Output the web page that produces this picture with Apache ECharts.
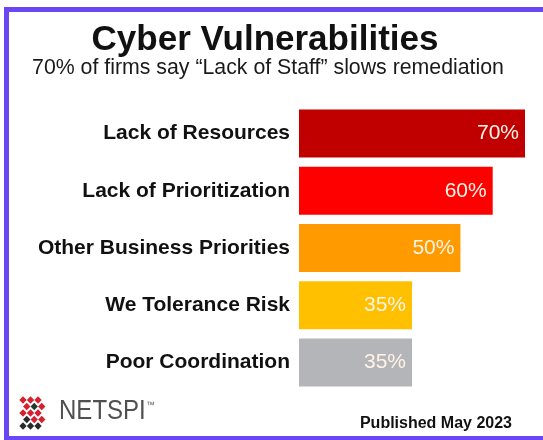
<!DOCTYPE html>
<html>
<head>
<meta charset="utf-8">
<script src="https://cdn.jsdelivr.net/npm/echarts@6/dist/echarts.min.js"></script>
<style>
  html, body { margin: 0; padding: 0; background: #fff; overflow: hidden; }
  #chart { width: 543px; height: 440px; }
</style>
</head>
<body>
<div id="chart"></div>
<script>
var categories = ['Lack of Resources', 'Lack of Prioritization', 'Other Business Priorities', 'We Tolerance Risk', 'Poor Coordination'];
var values = [70, 60, 50, 35, 35];
var titleText = 'Cyber Vulnerabilities';
var subtitleText = '70% of firms say \u201cLack of Staff\u201d slows remediation';
var footerText = 'Published May 2023';
var brandText = 'NETSPI';

var barColors = ['#c00000', '#fe0000', '#ff9a00', '#ffc000', '#b4b5b8'];
var FONT = '"Liberation Sans", Arial, sans-serif';

// logo diamonds (decorative)
var logoCells = [
  [23, 400, '#d4202f'], [30.5, 400, '#d4202f'], [38, 400, '#d4202f'],
  [26.75, 406.5, '#d4202f'], [34.25, 406.5, '#1f3b2e'], [41.75, 406.5, '#d4202f'],
  [23, 413, '#d4202f'], [30.5, 413, '#d4202f'], [38, 413, '#d4202f'],
  [26.75, 419.5, '#2a2a2a'], [34.25, 419.5, '#d4202f'], [41.75, 419.5, '#d4202f'],
  [23, 426, '#2a2a2a'], [30.5, 426, '#2a2a2a'], [38, 426, '#2a2a2a']
];

var PURPLE = '#6a46f5';
var graphics = [
  { type: 'rect', shape: { x: 4, y: 7, width: 539, height: 5 }, style: { fill: PURPLE }, z: 100 },
  { type: 'rect', shape: { x: 4, y: 7, width: 5, height: 433 }, style: { fill: PURPLE }, z: 100 },
  { type: 'rect', shape: { x: 4, y: 436, width: 539, height: 4 }, style: { fill: PURPLE }, z: 100 },
  { type: 'text', x: 59, y: 398, scaleX: 0.89,
    style: { text: brandText, font: '27px ' + FONT, fill: '#505050' } },
  { type: 'text', x: 146, y: 401,
    style: { text: '\u2122', font: '9px ' + FONT, fill: '#666' } },
  { type: 'text', right: 31, top: 416,
    style: { text: footerText, font: 'bold 16px ' + FONT, fill: '#111', textAlign: 'right' } }
];
logoCells.forEach(function (c) {
  var h = 3.7;
  graphics.push({
    type: 'polygon',
    shape: { points: [[c[0], c[1] - h], [c[0] + h, c[1]], [c[0], c[1] + h], [c[0] - h, c[1]]] },
    style: { fill: c[2] }
  });
});

var chart = echarts.init(document.getElementById('chart'), null, { renderer: 'canvas' });
chart.setOption({
  backgroundColor: '#ffffff',
  animation: false,
  title: [
    { text: titleText, left: 260, top: 18, textAlign: 'center',
      textStyle: { fontFamily: FONT, fontSize: 35, fontWeight: 'bold', color: '#111' } },
    { text: subtitleText, left: 263, top: 53, textAlign: 'center',
      textStyle: { fontFamily: FONT, fontSize: 21.3, fontWeight: 'normal', color: '#1a1a1a' } }
  ],
  grid: { left: 299, right: 18, top: 105, bottom: 49, containLabel: false },
  xAxis: { type: 'value', min: 0, max: 70, show: false },
  yAxis: {
    type: 'category', data: categories, inverse: true,
    axisLine: { show: false }, axisTick: { show: false }, splitLine: { show: false },
    axisLabel: { margin: 9, fontFamily: FONT, fontSize: 21, fontWeight: 'bold', color: '#111' }
  },
  series: [{
    type: 'bar',
    barWidth: 48,
    data: values.map(function (v, i) { return { value: v, itemStyle: { color: barColors[i] } }; }),
    label: {
      show: true, position: 'insideRight', distance: 6,
      formatter: '{c}%', fontFamily: FONT, fontSize: 21, color: '#fff3e6'
    }
  }],
  graphic: graphics
});
</script>
</body>
</html>
